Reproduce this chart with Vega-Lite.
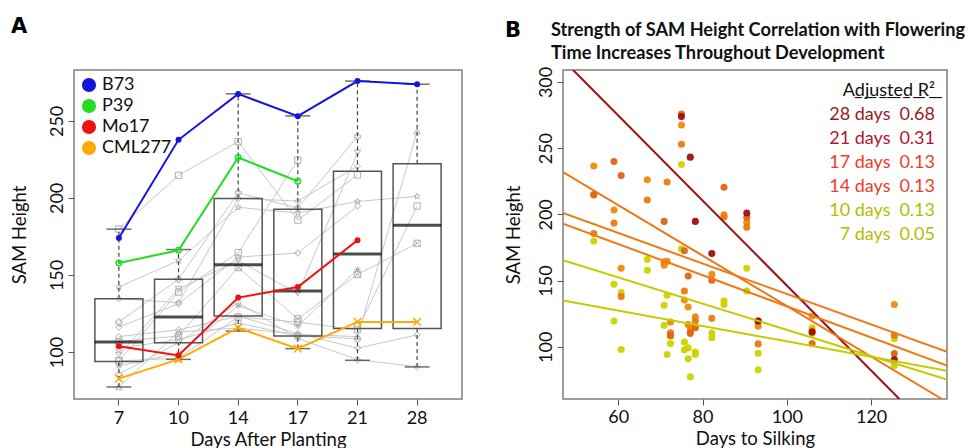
{
  "$schema": "https://vega.github.io/schema/vega-lite/v6.json",
  "background": "white",
  "padding": {"left": 9, "top": 15, "right": 0, "bottom": 0},
  "bounds": "flush",
  "spacing": 101,
  "title": {"text": "B", "anchor": "start", "frame": "group", "dx": 431, "dy": 30, "font": "DejaVu Sans", "fontSize": 21, "fontWeight": "bold", "color": "#000"},
  "resolve": {"scale": {"color": "independent", "fill": "independent", "stroke": "independent", "shape": "independent"}, "legend": {"color": "independent", "fill": "independent", "stroke": "independent", "shape": "independent"}},
  "config": {
    "font": "Lato",
    "view": {"stroke": "#7f7f7f", "strokeWidth": 1.5},
    "axis": {"domain": false, "grid": false, "tickColor": "#555", "tickSize": 6, "labelFont": "Lato", "titleFont": "Lato", "labelFontSize": 18, "titleFontSize": 18.5, "labelColor": "#111", "titleColor": "#111", "titleFontWeight": "normal"}
  },
  "datasets": {
    "box": [
      {"day": 7, "lo": 77.3, "q1": 93.9, "med": 106.5, "q3": 134.6, "hi": 179.7},
      {"day": 10, "lo": 95.2, "q1": 106, "med": 122.7, "q3": 147.2, "hi": 166.5},
      {"day": 14, "lo": 113.6, "q1": 123.4, "med": 156.7, "q3": 199.6, "hi": 267.5},
      {"day": 17, "lo": 102.2, "q1": 110.4, "med": 139.6, "q3": 192.6, "hi": 253.2},
      {"day": 21, "lo": 94.6, "q1": 115.2, "med": 163.6, "q3": 217.3, "hi": 275.8},
      {"day": 28, "lo": 90.3, "q1": 115.2, "med": 182.3, "q3": 222.1, "hi": 273.8}
    ],
    "lines": [
      {"line": "B73", "dts": 75, "day": 7, "h": 174},
      {"line": "B73", "dts": 75, "day": 10, "h": 237.7},
      {"line": "B73", "dts": 75, "day": 14, "h": 267.5},
      {"line": "B73", "dts": 75, "day": 17, "h": 253},
      {"line": "B73", "dts": 75, "day": 21, "h": 275.8},
      {"line": "B73", "dts": 75, "day": 28, "h": 273.8},
      {"line": "P39", "dts": 66.9, "day": 7, "h": 157.8},
      {"line": "P39", "dts": 66.9, "day": 10, "h": 166},
      {"line": "P39", "dts": 66.9, "day": 14, "h": 226.2},
      {"line": "P39", "dts": 66.9, "day": 17, "h": 210.8},
      {"line": "Mo17", "dts": 75.7, "day": 7, "h": 103.7},
      {"line": "Mo17", "dts": 75.7, "day": 10, "h": 97.8},
      {"line": "Mo17", "dts": 75.7, "day": 14, "h": 135.3},
      {"line": "Mo17", "dts": 75.7, "day": 17, "h": 142.2},
      {"line": "Mo17", "dts": 75.7, "day": 21, "h": 172.5},
      {"line": "CML277", "dts": 93.2, "day": 7, "h": 82.7},
      {"line": "CML277", "dts": 93.2, "day": 10, "h": 95.2},
      {"line": "CML277", "dts": 93.2, "day": 14, "h": 115.6},
      {"line": "CML277", "dts": 93.2, "day": 17, "h": 102.2},
      {"line": "CML277", "dts": 93.2, "day": 21, "h": 119.5},
      {"line": "CML277", "dts": 93.2, "day": 28, "h": 119.5},
      {"line": "G01", "dts": 54.2, "day": 7, "h": 179.8},
      {"line": "G01", "dts": 54.2, "day": 10, "h": 214.7},
      {"line": "G01", "dts": 54.2, "day": 14, "h": 236.5},
      {"line": "G01", "dts": 54.2, "day": 17, "h": 185.6},
      {"line": "G01", "dts": 54.2, "day": 21, "h": 214.9},
      {"line": "G02", "dts": 59, "day": 7, "h": 119.4},
      {"line": "G02", "dts": 59, "day": 10, "h": 147.2},
      {"line": "G02", "dts": 59, "day": 14, "h": 203.3},
      {"line": "G02", "dts": 59, "day": 17, "h": 193.4},
      {"line": "G02", "dts": 59, "day": 21, "h": 239.9},
      {"line": "G03", "dts": 60.7, "day": 7, "h": 98},
      {"line": "G03", "dts": 60.7, "day": 10, "h": 140.9},
      {"line": "G03", "dts": 60.7, "day": 14, "h": 159.3},
      {"line": "G03", "dts": 60.7, "day": 17, "h": 137.9},
      {"line": "G03", "dts": 60.7, "day": 21, "h": 229.3},
      {"line": "G04", "dts": 70.9, "day": 7, "h": 116.2},
      {"line": "G04", "dts": 70.9, "day": 10, "h": 131.3},
      {"line": "G04", "dts": 70.9, "day": 14, "h": 161.6},
      {"line": "G04", "dts": 70.9, "day": 17, "h": 164.2},
      {"line": "G04", "dts": 70.9, "day": 21, "h": 194.7},
      {"line": "G05", "dts": 71.6, "day": 7, "h": 94.2},
      {"line": "G05", "dts": 71.6, "day": 10, "h": 138.9},
      {"line": "G05", "dts": 71.6, "day": 14, "h": 164.5},
      {"line": "G05", "dts": 71.6, "day": 17, "h": 224.5},
      {"line": "G06", "dts": 72.4, "day": 7, "h": 102.5},
      {"line": "G06", "dts": 72.4, "day": 10, "h": 108},
      {"line": "G06", "dts": 72.4, "day": 14, "h": 118.7},
      {"line": "G06", "dts": 72.4, "day": 17, "h": 110.6},
      {"line": "G06", "dts": 72.4, "day": 21, "h": 108.6},
      {"line": "G07", "dts": 76.6, "day": 7, "h": 90.9},
      {"line": "G07", "dts": 76.6, "day": 10, "h": 99.2},
      {"line": "G07", "dts": 76.6, "day": 14, "h": 130},
      {"line": "G07", "dts": 76.6, "day": 17, "h": 116.9},
      {"line": "G07", "dts": 76.6, "day": 21, "h": 153.5},
      {"line": "G08", "dts": 77.1, "day": 7, "h": 77.3},
      {"line": "G08", "dts": 77.1, "day": 10, "h": 113},
      {"line": "G08", "dts": 77.1, "day": 14, "h": 115.6},
      {"line": "G08", "dts": 77.1, "day": 17, "h": 111.4},
      {"line": "G08", "dts": 77.1, "day": 21, "h": 110},
      {"line": "G08", "dts": 77.1, "day": 28, "h": 243.2},
      {"line": "G09", "dts": 78.3, "day": 7, "h": 94.2},
      {"line": "G09", "dts": 78.3, "day": 10, "h": 96},
      {"line": "G09", "dts": 78.3, "day": 14, "h": 122.7},
      {"line": "G09", "dts": 78.3, "day": 17, "h": 119.4},
      {"line": "G09", "dts": 78.3, "day": 21, "h": 114.4},
      {"line": "G09", "dts": 78.3, "day": 28, "h": 194.7},
      {"line": "G10", "dts": 82.2, "day": 7, "h": 106.8},
      {"line": "G10", "dts": 82.2, "day": 10, "h": 110.4},
      {"line": "G10", "dts": 82.2, "day": 14, "h": 154.8},
      {"line": "G10", "dts": 82.2, "day": 17, "h": 121.5},
      {"line": "G10", "dts": 82.2, "day": 21, "h": 150.3},
      {"line": "G10", "dts": 82.2, "day": 28, "h": 170.5},
      {"line": "G11", "dts": 85.1, "day": 7, "h": 134.6},
      {"line": "G11", "dts": 85.1, "day": 10, "h": 132},
      {"line": "G11", "dts": 85.1, "day": 14, "h": 199.6},
      {"line": "G11", "dts": 85.1, "day": 17, "h": 198},
      {"line": "G11", "dts": 85.1, "day": 21, "h": 220.5},
      {"line": "G12", "dts": 90.5, "day": 7, "h": 142.2},
      {"line": "G12", "dts": 90.5, "day": 10, "h": 159.3},
      {"line": "G12", "dts": 90.5, "day": 14, "h": 193.9},
      {"line": "G12", "dts": 90.5, "day": 17, "h": 190.2},
      {"line": "G12", "dts": 90.5, "day": 21, "h": 197.7},
      {"line": "G12", "dts": 90.5, "day": 28, "h": 201},
      {"line": "G13", "dts": 106, "day": 7, "h": 110},
      {"line": "G13", "dts": 106, "day": 10, "h": 114.4},
      {"line": "G13", "dts": 106, "day": 14, "h": 123.2},
      {"line": "G13", "dts": 106, "day": 17, "h": 112},
      {"line": "G13", "dts": 106, "day": 21, "h": 102.5},
      {"line": "G13", "dts": 106, "day": 28, "h": 111.1},
      {"line": "G14", "dts": 125.5, "day": 7, "h": 85.8},
      {"line": "G14", "dts": 125.5, "day": 10, "h": 106.1},
      {"line": "G14", "dts": 125.5, "day": 14, "h": 132},
      {"line": "G14", "dts": 125.5, "day": 17, "h": 108.8},
      {"line": "G14", "dts": 125.5, "day": 21, "h": 95},
      {"line": "G14", "dts": 125.5, "day": 28, "h": 90.4}
    ],
    "reg": [
      {"rl": "28 days\u20020.68", "dts": 49.3, "h": 309},
      {"rl": "28 days\u20020.68", "dts": 126.7, "h": 60.6},
      {"rl": "21 days\u20020.31", "dts": 46.9, "h": 232},
      {"rl": "21 days\u20020.31", "dts": 136.8, "h": 60.6},
      {"rl": "17 days\u20020.13", "dts": 46.9, "h": 201},
      {"rl": "17 days\u20020.13", "dts": 138, "h": 96.2},
      {"rl": "14 days\u20020.13", "dts": 46.9, "h": 193},
      {"rl": "14 days\u20020.13", "dts": 138, "h": 85.9},
      {"rl": "10 days\u20020.13", "dts": 46.9, "h": 165.4},
      {"rl": "10 days\u20020.13", "dts": 138, "h": 75.2},
      {"rl": "7 days\u20020.05", "dts": 46.9, "h": 135},
      {"rl": "7 days\u20020.05", "dts": 138, "h": 82}
    ]
  },
  "hconcat": [
    {
      "title": {"text": "A", "anchor": "start", "frame": "group", "dx": -63, "offset": 33, "font": "DejaVu Sans", "fontSize": 21, "fontWeight": "bold", "color": "#000"},
      "width": 388,
      "height": 329,
      "encoding": {
        "x": {"field": "day", "type": "ordinal", "scale": {"type": "band", "domain": [7, 10, 14, 17, 21, 28], "paddingInner": 0.195, "paddingOuter": 0.35}, "axis": {"title": "Days After Planting", "labelAngle": 0, "labelPadding": 4, "titlePadding": 3}}
      },
      "layer": [
        {
          "data": {"name": "lines"},
          "transform": [{"filter": "indexof(['B73','P39','Mo17','CML277'], datum.line) < 0"}],
          "mark": {"type": "line", "color": "#c8c8c8", "strokeWidth": 1},
          "encoding": {
            "y": {"field": "h", "type": "quantitative", "scale": {"domain": [69.5, 283], "nice": false, "zero": false}, "axis": {"title": "SAM Height", "values": [100, 150, 200, 250], "labelAngle": -90, "labelAlign": "center", "labelBaseline": "bottom", "labelPadding": 2, "titlePadding": 19}},
            "detail": {"field": "line"}
          }
        },
        {
          "data": {"name": "lines"},
          "transform": [{"filter": "indexof(['B73','P39','Mo17','CML277'], datum.line) < 0"}],
          "mark": {"type": "point", "filled": false, "size": 40, "strokeWidth": 1, "color": "#aaaaaa", "opacity": 0.9},
          "encoding": {
            "y": {"field": "h", "type": "quantitative"},
            "shape": {"field": "line", "type": "nominal", "legend": null, "scale": {"domain": ["G01","G02","G03","G04","G05","G06","G07","G08","G09","G10","G11","G12","G13","G14"], "range": ["square", "cross", "triangle-down", "diamond", "square", "circle", "M-1,0L1,0M0,-1L0,1M-0.7,-0.7L0.7,0.7M-0.7,0.7L0.7,-0.7", "triangle-up", "square", "M-1,-1H1V1H-1ZM-1,-1L1,1M-1,1L1,-1", "diamond", "M0,-1L0.29,-0.4L0.95,-0.31L0.47,0.15L0.59,0.81L0,0.5L-0.59,0.81L-0.47,0.15L-0.95,-0.31L-0.29,-0.4Z", "diamond", "diamond"]}}
          }
        },
        {
          "data": {"name": "box"},
          "mark": {"type": "bar", "fill": "transparent", "stroke": "#555555", "strokeWidth": 1.5},
          "encoding": {"y": {"field": "q1", "type": "quantitative"}, "y2": {"field": "q3"}}
        },
        {
          "data": {"name": "box"},
          "mark": {"type": "rule", "color": "#444444", "strokeWidth": 1.2, "strokeDash": [4, 3]},
          "encoding": {"y": {"field": "q3", "type": "quantitative"}, "y2": {"field": "hi"}}
        },
        {
          "data": {"name": "box"},
          "mark": {"type": "rule", "color": "#444444", "strokeWidth": 1.2, "strokeDash": [4, 3]},
          "encoding": {"y": {"field": "lo", "type": "quantitative"}, "y2": {"field": "q1"}}
        },
        {
          "data": {"name": "box"},
          "mark": {"type": "tick", "color": "#333333", "size": 25, "thickness": 1.5},
          "encoding": {"y": {"field": "hi", "type": "quantitative"}}
        },
        {
          "data": {"name": "box"},
          "mark": {"type": "tick", "color": "#333333", "size": 25, "thickness": 1.5},
          "encoding": {"y": {"field": "lo", "type": "quantitative"}}
        },
        {
          "data": {"name": "box"},
          "mark": {"type": "tick", "color": "#000000", "size": 48, "thickness": 3},
          "encoding": {"y": {"field": "med", "type": "quantitative"}}
        },
        {
          "data": {"name": "lines"},
          "transform": [{"filter": "indexof(['B73','P39','Mo17','CML277'], datum.line) >= 0"}],
          "mark": {"type": "line", "strokeWidth": 2},
          "encoding": {
            "y": {"field": "h", "type": "quantitative"},
            "stroke": {"field": "line", "type": "nominal", "scale": {"domain": ["B73", "P39", "Mo17", "CML277"], "range": ["#1414dc", "#22dd22", "#ee1111", "#ffaa00"]}, "legend": {"title": null, "orient": "top-left", "offset": 6, "padding": 0, "symbolSize": 200, "symbolType": "circle", "symbolStrokeWidth": 0, "symbolOpacity": 1, "labelFontSize": 18, "labelOffset": 4, "rowPadding": 3, "labelColor": "#111"}}
          }
        },
        {
          "data": {"name": "lines"},
          "transform": [{"filter": "datum.line == 'P39'"}],
          "mark": {"type": "point", "filled": false, "shape": "circle", "size": 30, "strokeWidth": 1.5, "color": "#22dd22", "opacity": 1},
          "encoding": {"y": {"field": "h", "type": "quantitative"}}
        },
        {
          "data": {"name": "lines"},
          "transform": [{"filter": "datum.line == 'CML277'"}],
          "mark": {"type": "point", "filled": false, "shape": "M-1,-1L1,1M-1,1L1,-1", "size": 60, "strokeWidth": 1.5, "color": "#ffaa00", "opacity": 1},
          "encoding": {"y": {"field": "h", "type": "quantitative"}}
        },
        {
          "data": {"name": "lines"},
          "transform": [{"filter": "datum.line == 'B73' || datum.line == 'Mo17'"}],
          "mark": {"type": "point", "filled": true, "shape": "circle", "size": 36, "opacity": 1, "strokeWidth": 0},
          "encoding": {
            "y": {"field": "h", "type": "quantitative"},
            "fill": {"field": "line", "type": "nominal", "scale": {"domain": ["B73", "P39", "Mo17", "CML277"], "range": ["#1414dc", "#22dd22", "#ee1111", "#ffaa00"]}, "legend": {"title": null, "orient": "top-left", "offset": 6, "padding": 0, "symbolSize": 200, "symbolType": "circle", "symbolStrokeWidth": 0, "symbolOpacity": 1, "labelFontSize": 18, "labelOffset": 4, "rowPadding": 3, "labelColor": "#111"}}
          }
        }
      ]
    },
    {
      "title": {"text": ["Strength of SAM Height Correlation with Flowering", "Time Increases Throughout Development"], "anchor": "start", "frame": "group", "dx": -12, "offset": 3, "font": "Lato", "fontSize": 18.2, "fontWeight": "bold", "lineHeight": 23.5, "color": "#111"},
      "width": 384,
      "height": 329,
      "encoding": {
        "x": {"field": "dts", "type": "quantitative", "scale": {"domain": [46.9, 138], "nice": false, "zero": false}, "axis": {"title": "Days to Silking", "values": [60, 80, 100, 120], "labelPadding": 3, "titlePadding": 3}},
        "y": {"field": "h", "type": "quantitative", "scale": {"domain": [60.6, 309], "nice": false, "zero": false}, "axis": {"title": "SAM Height", "values": [100, 150, 200, 250, 300], "labelAngle": -90, "labelAlign": "center", "labelBaseline": "bottom", "labelPadding": 2, "titlePadding": 14}}
      },
      "layer": [
        {
          "data": {"name": "lines"},
          "mark": {"type": "point", "filled": true, "shape": "circle", "size": 50, "opacity": 0.95, "strokeWidth": 0},
          "encoding": {
            "fill": {"field": "day", "type": "nominal", "legend": null, "scale": {"domain": [7, 10, 14, 17, 21, 28], "range": ["#c9d400", "#d2d000", "#f08a0a", "#ec7810", "#e06414", "#a00c10"]}}
          }
        },
        {
          "data": {"name": "reg"},
          "mark": {"type": "line", "strokeWidth": 2, "clip": true},
          "encoding": {
            "stroke": {"field": "rl", "type": "nominal", "scale": {"domain": ["28 days\u20020.68", "21 days\u20020.31", "17 days\u20020.13", "14 days\u20020.13", "10 days\u20020.13", "7 days\u20020.05"], "range": ["#9c1212", "#ee7414", "#ee7a14", "#ee7a14", "#c4cc00", "#c4cc00"]}, "legend": {"title": "A\u0332d\u0332j\u0332u\u0332s\u0332t\u0332e\u0332d\u0332 \u0332R\u0332²\u0332", "orient": "top-right", "offset": 12, "padding": 0, "symbolSize": 0, "symbolStrokeWidth": 0, "symbolOpacity": 0, "labelOffset": 0, "labelAlign": "right", "labelFontSize": 18, "titleFontSize": 18, "titleFontWeight": "normal", "titleColor": "#111", "titleAnchor": "end", "titlePadding": 6, "rowPadding": 6, "encode": {"labels": {"update": {"fill": {"signal": "indexof(datum.value, '28') === 0 ? '#9b1b1b' : indexof(datum.value, '21') === 0 ? '#b01530' : indexof(datum.value, '1') === 0 && indexof(datum.value, '10') !== 0 ? '#f03c28' : '#b4bc00'"}}}}}}
          }
        }
      ]
    }
  ]
}
